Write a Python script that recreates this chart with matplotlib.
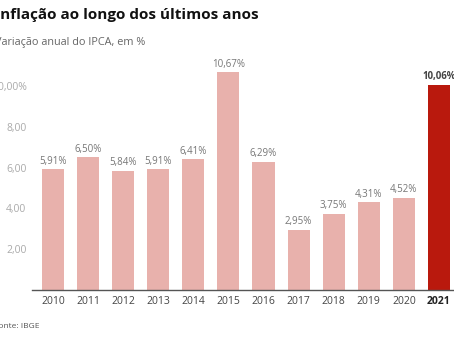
import matplotlib
matplotlib.use('Agg')
from matplotlib import pyplot as plt

plt.rcParams['font.family'] = ['Open Sans', 'DejaVu Sans']

# Dados
anos = ['2010', '2011', '2012', '2013', '2014', '2015', '2016', '2017', '2018', '2019', '2020', '2021']
ipca = [5.91, 6.50, 5.84, 5.91, 6.41, 10.67, 6.29, 2.95, 3.75, 4.31, 4.52, 10.06]
rotulos = ['5,91%', '6,50%', '5,84%', '5,91%', '6,41%', '10,67%', '6,29%', '2,95%', '3,75%', '4,31%', '4,52%', '10,06%']
yticks = [2, 4, 6, 8, 10]
yticklabels = ['2,00', '4,00', '6,00', '8,00', '10,00%']

cor_clara = '#e8b1ac'
cor_forte = '#b9190d'

fig = plt.figure(figsize=(4.54, 3.41), dpi=100)
ax = fig.add_axes([32 / 454, 1 - 290 / 341, 1 - 32 / 454, (290 - 55) / 341])

x = list(range(len(anos)))
cores = [cor_clara] * (len(anos) - 1) + [cor_forte]
ax.bar(x, ipca, width=0.63, color=cores)

for i, v in enumerate(ipca):
    ultimo = i == len(anos) - 1
    ax.text(i, v + 0.12, rotulos[i], ha='center', va='bottom',
            fontsize=6.9 if ultimo else 7,
            color='#444444' if ultimo else '#777777',
            fontweight='bold' if ultimo else 'normal')

ax.set_xlim(-0.6, 11.43)
ax.set_ylim(0, 11.52)
ax.set_xticks(x)
ax.set_xticklabels(anos, fontsize=7.5, color='#444444')
ax.get_xticklabels()[-1].set_fontweight('bold')
ax.get_xticklabels()[-1].set_color('#222222')
ax.set_yticks(yticks)
ax.set_yticklabels(yticklabels, fontsize=7.5, color='#aaaaaa')
ax.tick_params(axis='both', length=0)
ax.tick_params(axis='y', pad=4)
ax.tick_params(axis='x', pad=4)

for s in ['top', 'right', 'left']:
    ax.spines[s].set_visible(False)
ax.spines['bottom'].set_color('#555555')
ax.spines['bottom'].set_linewidth(1)

fig.text(-5 / 454, 1 - 15 / 341, 'Inflação ao longo dos últimos anos', fontsize=11,
         fontweight='bold', color='#111111', va='center', ha='left')
fig.text(-5 / 454, 1 - 42 / 341, 'Variação anual do IPCA, em %', fontsize=7.8,
         color='#666666', va='center', ha='left')
fig.text(-6 / 454, 1 - 327 / 341, 'Fonte: IBGE', fontsize=6,
         color='#555555', va='center', ha='left')

fig.savefig('out.png', dpi=100)
